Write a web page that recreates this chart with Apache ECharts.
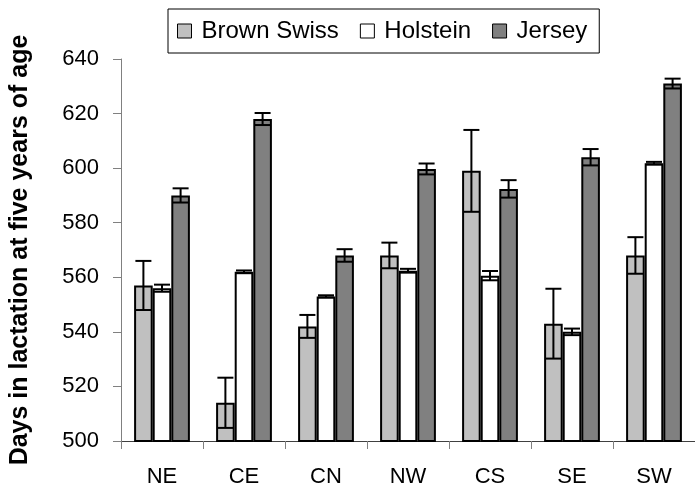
<!DOCTYPE html>
<html>
<head>
<meta charset="utf-8">
<script src="https://cdn.jsdelivr.net/npm/echarts@6/dist/echarts.min.js"></script>
<style>
html,body{margin:0;padding:0;background:#fff;}
#chart{width:695px;height:491px;}
</style>
</head>
<body>
<div id="chart"></div>
<script>
var categories = ['NE', 'CE', 'CN', 'NW', 'CS', 'SE', 'SW'];
var seriesNames = ['Brown Swiss', 'Holstein', 'Jersey'];
var brownSwiss = [557, 514, 542, 568, 599, 543, 568];
var brownSwissErr = [9, 9.2, 4.2, 4.7, 15, 12.8, 6.7];
var holstein = [556, 562, 553, 562.4, 560.6, 540, 601.8];
var holsteinErr = [1.3, 0.5, 0.4, 0.7, 1.7, 1.2, 0.5];
var jersey = [590, 618, 568, 599.7, 592.4, 604, 631];
var jerseyErr = [2.6, 2.2, 2.3, 2, 3.2, 3, 1.8];
var yTicks = [500, 520, 540, 560, 580, 600, 620, 640];

var FONT = '"Liberation Sans", Arial, sans-serif';
var BAR_W = 18.6;
var colors = ['#c0c0c0', '#ffffff', '#808080'];
var means = [brownSwiss, holstein, jersey];
var errs = [brownSwissErr, holsteinErr, jerseyErr];

function errData(m, e, k) {
  return m.map(function (v, i) { return [i, v - e[i], v + e[i], k]; });
}

function renderErr(params, api) {
  var cat = api.value(0), lo = api.value(1), hi = api.value(2), k = api.value(3);
  var pLo = api.coord([cat, lo]);
  var pHi = api.coord([cat, hi]);
  var x = pLo[0] + k * BAR_W;
  var hw = 8;
  var st = { stroke: '#000', lineWidth: 2 };
  return {
    type: 'group',
    children: [
      { type: 'line', shape: { x1: x, y1: pHi[1], x2: x, y2: pLo[1] }, style: st },
      { type: 'line', shape: { x1: x - hw, y1: pHi[1], x2: x + hw, y2: pHi[1] }, style: st },
      { type: 'line', shape: { x1: x - hw, y1: pLo[1], x2: x + hw, y2: pLo[1] }, style: st }
    ]
  };
}

var series = [];
seriesNames.forEach(function (n, k) {
  series.push({
    name: n,
    type: 'bar',
    data: means[k],
    barWidth: BAR_W,
    barGap: '0%',
    itemStyle: { color: colors[k], borderColor: '#000', borderWidth: 2 },
    z: 2
  });
});
seriesNames.forEach(function (n, k) {
  series.push({
    type: 'custom',
    name: n + ' error',
    data: errData(means[k], errs[k], k - 1),
    renderItem: renderErr,
    z: 5,
    silent: true
  });
});

var chart = echarts.init(document.getElementById('chart'), null, { renderer: 'canvas' });
chart.setOption({
  animation: false,
  backgroundColor: '#fff',
  textStyle: { fontFamily: FONT },
  legend: {
    data: seriesNames,
    icon: 'rect',
    left: 168,
    top: 9,
    padding: [10, 12, 10, 9],
    itemWidth: 14,
    itemHeight: 14,
    itemGap: 21,
    borderColor: '#000',
    borderWidth: 1,
    backgroundColor: '#fff',
    itemStyle: { borderColor: '#000', borderWidth: 1 },
    textStyle: { fontFamily: FONT, fontSize: 24, color: '#000', padding: [0, 0, 0, 5] }
  },
  grid: { left: 114, top: 59, width: 589, height: 382, containLabel: false },
  xAxis: {
    type: 'category',
    data: categories,
    axisLine: { lineStyle: { color: '#404040', width: 1 } },
    axisTick: { show: true, length: 8, lineStyle: { color: '#808080' } },
    axisLabel: { fontFamily: FONT, fontSize: 22, color: '#000', margin: 25 },
    splitLine: { show: false }
  },
  yAxis: {
    type: 'value',
    min: yTicks[0],
    max: yTicks[yTicks.length - 1],
    interval: 20,
    name: 'Days in lactation at five years of age',
    nameLocation: 'middle',
    nameRotate: 90,
    nameGap: 88,
    nameTextStyle: { fontFamily: FONT, fontSize: 25, fontWeight: 'bold', color: '#000' },
    axisLine: { show: true, lineStyle: { color: '#808080', width: 1 } },
    axisTick: { show: true, length: 8, lineStyle: { color: '#808080' } },
    axisLabel: { fontFamily: FONT, fontSize: 22, color: '#000', margin: 22 },
    splitLine: { show: false }
  },
  series: series
});
</script>
</body>
</html>
